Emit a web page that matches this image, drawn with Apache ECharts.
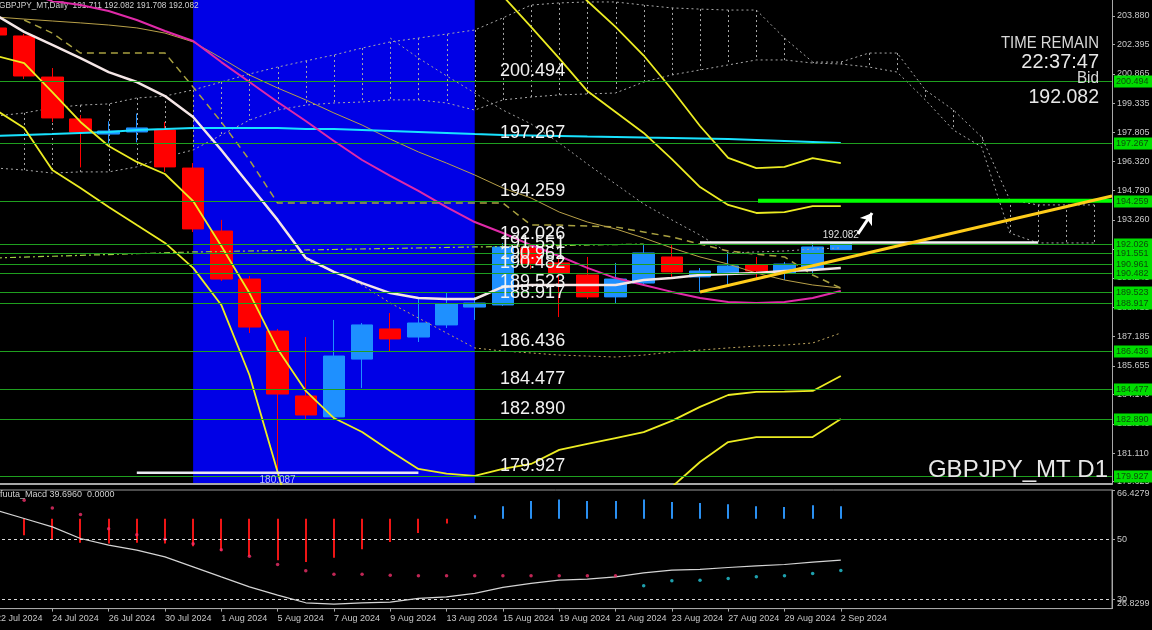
<!DOCTYPE html>
<html>
<head>
<meta charset="utf-8">
<title>GBPJPY_MT Daily</title>
<script src="https://cdn.jsdelivr.net/npm/echarts@6.0.0/dist/echarts.min.js"></script>
<style>
html,body{margin:0;padding:0;background:#000;overflow:hidden;}
#chart{width:1152px;height:630px;}
</style>
</head>
<body>
<div id="chart"></div>
<script>
// ---------- categories ----------
const dates = ['22 Jul 2024','23 Jul 2024','24 Jul 2024','25 Jul 2024','26 Jul 2024','29 Jul 2024','30 Jul 2024','31 Jul 2024',
  '1 Aug 2024','2 Aug 2024','5 Aug 2024','6 Aug 2024','7 Aug 2024','8 Aug 2024','9 Aug 2024','12 Aug 2024','13 Aug 2024',
  '14 Aug 2024','15 Aug 2024','16 Aug 2024','19 Aug 2024','20 Aug 2024','21 Aug 2024','22 Aug 2024','23 Aug 2024',
  '26 Aug 2024','27 Aug 2024','28 Aug 2024','29 Aug 2024','30 Aug 2024','2 Sep 2024'];
const dateLabelIdx = [0,2,4,6,8,10,12,14,16,18,20,22,24,26,28,30];

// ---------- candles ----------
const opens  = [203.255,202.84,200.70,198.52,197.73,197.84,197.94,195.96,192.68,190.18,187.47,184.09,183.00,186.01,187.58,187.16,187.79,188.72,188.83,191.80,191.02,190.39,189.25,189.97,191.33,190.29,190.44,190.91,190.50,190.70,191.711];
const closes = [202.89,200.755,198.57,197.84,197.89,198.05,196.02,192.79,190.18,187.68,184.19,183.10,186.17,187.79,187.06,187.89,188.88,188.93,191.85,191.00,190.50,189.25,190.18,191.54,190.55,190.60,190.86,190.60,190.96,191.85,192.082];
const lows   = [202.63,200.60,198.36,196.00,197.20,197.30,195.76,192.63,190.08,187.37,180.087,182.84,182.89,184.50,186.43,186.90,187.63,188.05,188.78,190.70,188.20,189.14,188.93,189.87,190.23,189.505,189.87,190.13,190.13,190.50,191.708];
const highs  = [203.46,202.95,201.17,198.72,198.40,198.80,198.36,196.22,193.26,190.34,187.58,187.16,188.05,187.89,188.41,189.19,189.505,189.24,192.06,192.00,191.28,191.33,191.02,191.95,191.95,190.755,191.59,191.33,191.07,192.06,192.082];

// ---------- indicator lines (price, per bar from index 0 unless noted) ----------
const cyanMA    = [197.63,197.68,197.73,197.79,197.84,197.94,197.99,198.05,198.05,198.05,198.05,197.99,197.99,197.94,197.89,197.84,197.79,197.73,197.68,197.66,197.63,197.60,197.58,197.55,197.53,197.50,197.47,197.42,197.37,197.32,197.27];
const whiteMA   = [203.93,203.05,202.37,201.69,200.96,200.44,199.71,198.62,196.90,195.08,193.26,191.28,190.55,189.97,189.45,189.19,189.14,189.14,189.77,189.87,189.87,189.87,189.87,190.13,190.23,190.39,190.44,190.49,190.60,190.65,190.76];
const magentaMA = [205.76,205.13,204.66,204.45,204.14,203.67,203.10,202.58,201.48,200.44,199.40,198.41,197.37,196.38,195.55,194.77,193.93,193.15,192.58,191.95,191.38,190.76,190.23,189.87,189.51,189.19,188.98,188.93,188.98,189.19,189.56];
const khakiMA   = [203.83,203.72,203.62,203.52,203.41,203.26,202.99,202.53,201.69,200.81,200.13,199.51,198.83,198.20,197.47,196.80,196.22,195.60,194.92,194.40,193.67,193.15,192.79,192.32,191.80,191.33,190.96,190.49,190.13,189.87,189.71];
const kijun     = [null,203.67,202.99,201.95,201.95,201.95,201.95,200.18,198.36,196.38,194.14,194.14,194.14,194.14,194.14,194.14,194.14,194.14,194.14,192.99,192.99,192.94,192.89,192.63,192.37,192.00,191.64,191.48,191.33,190.39,189.71];
const bandUpper2Start = 17;
const bandUpper2 = [206.54,204.92,203.31,201.67,199.97,198.88,197.79,196.43,194.97,194.04,193.62,193.67,193.98,193.98];
const bandUpper3Start = 20;
const bandUpper3 = [206.17,204.66,203.31,201.82,200.05,198.15,196.49,195.96,196.02,196.48,196.22];
const bandLower2 = [201.80,201.43,199.92,198.36,197.11,196.28,195.65,194.24,191.90,189.45,186.54,184.35,182.94,182.21,181.22,180.29,180.05,179.93,180.29,180.55,181.28,181.59,181.90,182.21,182.79,183.52,184.14,184.30,184.32,184.35,185.13];
const bandLower3 = [198.98,198.05,195.86,194.92,193.93,192.99,192.06,190.76,188.83,185.18,180.13,175.03,171.90,170.34,169.30,168.78,168.78,169.30,170.34,171.90,173.46,175.03,176.59,178.15,179.35,180.65,181.69,181.95,181.95,181.95,182.89];
const band1UpStart = 14;
const band1Up   = [202.73,201.69,200.76,199.87,198.98,198.26,197.27,196.17,195.13,194.09,193.26,192.47,191.54,191.59,191.64,191.74,191.80];
const band1LoStart = 11;
const band1Lo   = [191.17,190.55,189.87,188.93,188.15,187.37,186.59,186.43,186.33,186.22,186.17,186.12,186.22,186.38,186.48,186.59,186.69,186.74,186.85,187.37];
const dashDotLine = [[0,191.28],[7,191.59],[17,191.85],[23,192.00]];

// Ichimoku cloud spans (bar 0 .. 39, shifted forward)
const spanA = [198.67,198.83,199.09,199.24,199.30,199.61,199.71,200.03,200.44,200.86,201.22,201.54,201.85,202.21,202.53,202.73,202.94,203.15,203.78,204.45,204.56,204.61,204.61,204.45,204.30,204.24,204.19,204.19,202.73,201.48,201.48,201.95,201.95,200.03,198.98,197.58,194.30,194.04,194.04,194.04];
const spanB = [195.96,195.86,195.70,195.76,195.76,196.02,196.54,196.90,197.68,198.46,198.98,199.24,199.35,199.40,199.51,199.51,199.35,198.98,199.51,199.66,199.77,199.82,199.87,200.44,200.81,201.07,201.33,201.59,201.59,201.43,201.38,201.22,200.96,199.51,197.94,197.06,192.58,192.06,192.06,192.06];

// horizontal levels
const levels = [200.494,197.267,194.259,192.026,191.551,190.961,190.482,189.523,188.917,186.436,184.477,182.890,179.927];
const priceTicks = [203.880,202.395,200.865,199.335,197.805,196.320,194.790,193.260,191.730,190.245,188.715,187.185,185.655,184.170,182.640,181.110,179.625];

// drawn objects
const blueZone = [7, 17];
const greenLine = {from: 27.06, price: 194.259};
const trendLine = [[25, 189.505], [39.63, 194.505]];
const bidLine = {from: 25, to: 37, price: 192.082, labelAt: 30};
const lowMark = {from: 5, to: 15, price: 180.087};
const arrowUp = [[30.61, 192.53], [31.11, 193.62]];

// ---------- oscillator (fuuta_Macd) ----------
const histBase = 56.83;
const histStart = 1;
const hist = [51.33,49.9,48.78,48.56,48.78,48.56,47.67,46.1,44.33,43.0,42.43,43.77,46.67,49.1,52.1,55.23,58.0,61.0,62.77,63.23,62.77,62.77,63.23,62.43,62.1,61.67,61.0,60.77,61.33,61.0];
const dotsDownStart = 1;
const dotsDown = [63.0,60.43,58.23,53.5,51.5,50.0,48.5,46.5,44.33,41.56,39.44,38.33,38.33,38.0,37.78,37.78,37.78,37.78,37.78,37.78,37.78,37.78];
const dotsUpStart = 23;
const dotsUp = [34.44,36.1,36.33,36.89,37.44,37.78,38.56,39.56];
const signal = [59.67,56.9,54.1,50.23,48.0,46.33,44.1,40.77,37.43,34.1,31.33,28.77,28.33,28.77,29.0,30.23,30.77,31.9,33.9,35.23,36.33,36.67,37.43,38.77,39.67,39.9,40.56,41.1,41.56,42.33,43.0];
const oscLevels = [50, 30];
const oscTicks = [66.4279, 50, 30];
const oscBottomLabel = '26.8299';

// ---------- axis ranges ----------
const X_MAX = 39.63;
const PRICE_MIN = 179.505, PRICE_MAX = 204.713;
const OSC_MIN = 26.8299, OSC_MAX = 66.4279;

const FONT = '"Liberation Sans", Arial, sans-serif';
const AX_COL = '#c8c8c8';

function seq(arr, start) { return arr.map((v, i) => [start + i, v]); }
function priceLine(name, arr, start, color, width, type, z) {
  return {
    type: 'line', name, xAxisIndex: 0, yAxisIndex: 0, data: seq(arr, start),
    symbol: 'none', showSymbol: false, silent: true, clip: true, z: z || 3,
    lineStyle: {color, width, type: type || 'solid'}
  };
}

const chart = echarts.init(document.getElementById('chart'), null, {renderer: 'canvas'});

const candleData = opens.map((o, i) => [i, o, closes[i], lows[i], highs[i]]);

const option = {
  backgroundColor: '#000000',
  animation: false,
  grid: [
    {left: -4, right: 40, top: 0, height: 484, outerBoundsMode: 'none', containLabel: false},
    {left: -4, right: 40, top: 490, height: 118.6, outerBoundsMode: 'none', containLabel: false,
     show: true, borderColor: '#9a9a9a', borderWidth: 1, backgroundColor: 'transparent'}
  ],
  xAxis: [
    {type: 'value', gridIndex: 0, min: 0, max: X_MAX, splitLine: {show: false},
     axisLine: {show: true, onZero: false, lineStyle: {color: '#a8a8a8', width: 2}},
     axisTick: {show: false}, axisLabel: {show: false}},
    {type: 'value', gridIndex: 1, min: 0, max: X_MAX, splitLine: {show: false},
     axisLine: {show: true, onZero: false, lineStyle: {color: '#a8a8a8', width: 1}},
     axisTick: {show: true, customValues: dateLabelIdx, length: 3, lineStyle: {color: '#a8a8a8'}},
     axisLabel: {show: true, customValues: dateLabelIdx, formatter: v => dates[Math.round(v)] || '',
       color: AX_COL, fontSize: 9, fontFamily: FONT, align: 'left', margin: 5, hideOverlap: false}}
  ],
  yAxis: [
    {type: 'value', gridIndex: 0, position: 'right', min: PRICE_MIN, max: PRICE_MAX, splitLine: {show: false},
     axisLine: {show: true, onZero: false, lineStyle: {color: '#a8a8a8'}},
     axisTick: {show: true, customValues: priceTicks, length: 3, lineStyle: {color: '#a8a8a8'}},
     axisLabel: {customValues: priceTicks, formatter: v => v.toFixed(3), color: AX_COL, fontSize: 9, fontFamily: FONT, margin: 5, hideOverlap: false}},
    {type: 'value', gridIndex: 1, position: 'right', min: OSC_MIN, max: OSC_MAX, splitLine: {show: false},
     axisLine: {show: true, onZero: false, lineStyle: {color: '#a8a8a8'}},
     axisTick: {show: true, customValues: oscTicks, length: 3, lineStyle: {color: '#a8a8a8'}},
     axisLabel: {customValues: oscTicks, color: AX_COL, fontSize: 9, fontFamily: FONT, margin: 5,
       showMaxLabel: true, hideOverlap: false,
       formatter: v => (Math.abs(v - OSC_MAX) < 1e-6 ? '{t|' + v.toFixed(4) + '}' : String(v)),
       rich: {t: {color: AX_COL, fontSize: 9, fontFamily: FONT, padding: [8, 0, 0, 0]}}}}
  ],
  graphic: [
    {type: 'text', x: -1, y: 6, z: 1, scaleX: 0.92, style: {text: 'GBPJPY_MT,Daily  191.711 192.082 191.708 192.082', fill: '#d0d0d0', font: '9px ' + FONT, verticalAlign: 'middle'}},
    {type: 'text', x: 0, y: 495, z: 10, style: {text: 'fuuta_Macd 39.6960  0.0000', fill: '#d0d0d0', font: '9px ' + FONT, verticalAlign: 'middle'}},
    {type: 'text', x: 1117, y: 604, z: 10, style: {text: oscBottomLabel, fill: AX_COL, font: '9px ' + FONT, verticalAlign: 'middle'}},
    {type: 'text', x: 1099, y: 43, z: 10, scaleX: 0.88, style: {text: 'TIME REMAIN', fill: '#d8d8d8', font: '17px ' + FONT, align: 'right', verticalAlign: 'middle'}},
    {type: 'text', x: 1099, y: 62, z: 10, scaleX: 0.95, style: {text: '22:37:47', fill: '#e8e8e8', font: '21px ' + FONT, align: 'right', verticalAlign: 'middle'}},
    {type: 'text', x: 1099, y: 78, z: 10, scaleX: 0.9, style: {text: 'Bid', fill: '#d8d8d8', font: '17px ' + FONT, align: 'right', verticalAlign: 'middle'}},
    {type: 'text', x: 1099, y: 97, z: 10, scaleX: 0.93, style: {text: '192.082', fill: '#e8e8e8', font: '21px ' + FONT, align: 'right', verticalAlign: 'middle'}},
    {type: 'text', x: 1108, y: 470, z: 10, style: {text: 'GBPJPY_MT D1', fill: '#e8e8e8', font: '24px ' + FONT, align: 'right', verticalAlign: 'middle'}}
  ],
  series: [
    // blue highlighted zone
    {type: 'custom', name: 'zone', xAxisIndex: 0, yAxisIndex: 0, z: 0, silent: true,
     data: [[blueZone[0], blueZone[1]]], encode: {x: [0, 1]},
     renderItem: (params, api) => {
       const p1 = api.coord([api.value(0), PRICE_MAX]);
       const p2 = api.coord([api.value(1), PRICE_MIN]);
       return {type: 'rect', shape: {x: p1[0], y: p1[1], width: p2[0] - p1[0], height: p2[1] - p1[1]}, style: {fill: '#0000e6'}};
     }},
    // ichimoku hatch
    {type: 'custom', name: 'cloud', xAxisIndex: 0, yAxisIndex: 0, z: 1, silent: true,
     data: spanA.map((a, i) => [i, a, spanB[i]]), encode: {x: 0, y: [1, 2]},
     renderItem: (params, api) => {
       const p1 = api.coord([api.value(0), api.value(1)]);
       const p2 = api.coord([api.value(0), api.value(2)]);
       const x = Math.round(p1[0]) + 0.5;
       return {type: 'line', shape: {x1: x, y1: p1[1], x2: x, y2: p2[1]}, style: {stroke: '#a8a8a8', lineWidth: 1, lineDash: [2, 3]}};
     }},
    priceLine('spanA', spanA, 0, '#a8a8a8', 1, [2, 3], 1),
    priceLine('spanB', spanB, 0, '#a8a8a8', 1, [2, 3], 1),
    // candles
    {type: 'candlestick', name: 'GBPJPY', xAxisIndex: 0, yAxisIndex: 0, z: 2, silent: true, barWidth: 22, clip: true,
     data: candleData, encode: {x: 0, y: [1, 2, 3, 4]},
     itemStyle: {color: '#1e90ff', color0: '#ff0000', borderColor: '#1e90ff', borderColor0: '#ff0000', borderWidth: 1}},
    // indicators
    priceLine('band1Up', band1Up, band1UpStart, '#a0a0a0', 1, [2, 3]),
    priceLine('band1Lo', band1Lo, band1LoStart, '#c0a860', 1, [2, 3]),
    priceLine('kijun', kijun, 0, '#a8a040', 1.5, [7, 5]),
    {type: 'line', name: 'dashdot', xAxisIndex: 0, yAxisIndex: 0, data: dashDotLine, symbol: 'none', silent: true, z: 3,
     lineStyle: {color: '#9ccc44', width: 1.2, type: [6, 3, 2, 3]}},
    priceLine('khaki', khakiMA, 0, '#b8a048', 1),
    priceLine('cyan', cyanMA, 0, '#19e3ff', 2),
    priceLine('magenta', magentaMA, 0, '#e02aa8', 2),
    priceLine('white', whiteMA, 0, '#f4e6e6', 2.5),
    priceLine('up2', bandUpper2, bandUpper2Start, '#ecec22', 1.8),
    priceLine('up3', bandUpper3, bandUpper3Start, '#ecec22', 1.8),
    priceLine('lo2', bandLower2, 0, '#ecec22', 1.8),
    priceLine('lo3', bandLower3, 0, '#ecec22', 1.8),
    // horizontal levels with labels
    {type: 'custom', name: 'levels', xAxisIndex: 0, yAxisIndex: 0, z: 6, silent: true, clip: false,
     data: levels.map(v => [17.9, v]), encode: {x: 0, y: 1},
     renderItem: (params, api) => {
       const cs = params.coordSys;
       const v = api.value(1);
       const p = api.coord([api.value(0), v]);
       const y = Math.round(p[1]) + 0.5;
       const right = cs.x + cs.width;
       const txt = v.toFixed(3);
       return {type: 'group', children: [
         {type: 'line', shape: {x1: 0, y1: y, x2: right, y2: y}, style: {stroke: '#1f9f1f', lineWidth: 1}},
         {type: 'text', x: p[0], y: y - 1, style: {text: txt, fill: '#f2f2f2', font: '18px ' + FONT, align: 'left', verticalAlign: 'bottom'}},
         {type: 'rect', shape: {x: right + 2, y: y - 6, width: 38, height: 12}, style: {fill: '#00dd00'}},
         {type: 'text', x: right + 4, y: y, style: {text: txt, fill: '#0b4d0b', font: '9px ' + FONT, align: 'left', verticalAlign: 'middle'}}
       ]};
     }},
    // thick bright green line
    {type: 'line', name: 'green', xAxisIndex: 0, yAxisIndex: 0, z: 7, symbol: 'none', silent: true,
     data: [[greenLine.from, greenLine.price], [X_MAX, greenLine.price]], lineStyle: {color: '#00ff00', width: 4}},
    // trend line
    {type: 'line', name: 'trend', xAxisIndex: 0, yAxisIndex: 0, z: 7, symbol: 'none', silent: true,
     data: trendLine, lineStyle: {color: '#ffcc1a', width: 3}},
    // bid line + label
    {type: 'custom', name: 'bid', xAxisIndex: 0, yAxisIndex: 0, z: 7, silent: true,
     data: [[bidLine.from, bidLine.to, bidLine.price, bidLine.labelAt]], encode: {x: [0, 1], y: 2},
     renderItem: (params, api) => {
       const p1 = api.coord([api.value(0), api.value(2)]);
       const p2 = api.coord([api.value(1), api.value(2)]);
       const pl = api.coord([api.value(3), api.value(2)]);
       return {type: 'group', children: [
         {type: 'line', shape: {x1: p1[0], y1: p1[1], x2: p2[0], y2: p2[1]}, style: {stroke: '#f4f4f4', lineWidth: 2.5}},
         {type: 'text', x: pl[0], y: pl[1] - 2, style: {text: api.value(2).toFixed(3), fill: '#e0e0e0', font: '10px ' + FONT, align: 'center', verticalAlign: 'bottom'}}
       ]};
     }},
    // low marker
    {type: 'custom', name: 'low', xAxisIndex: 0, yAxisIndex: 0, z: 7, silent: true, clip: false,
     data: [[lowMark.from, lowMark.to, lowMark.price]], encode: {x: [0, 1], y: 2},
     renderItem: (params, api) => {
       const p1 = api.coord([api.value(0), api.value(2)]);
       const p2 = api.coord([api.value(1), api.value(2)]);
       return {type: 'group', children: [
         {type: 'line', shape: {x1: p1[0], y1: p1[1], x2: p2[0], y2: p2[1]}, style: {stroke: '#e8e8f0', lineWidth: 2.5}},
         {type: 'text', x: (p1[0] + p2[0]) / 2, y: p1[1] + 2, style: {text: api.value(2).toFixed(3), fill: '#b8bcff', font: '10px ' + FONT, align: 'center', verticalAlign: 'top'}}
       ]};
     }},
    // arrow
    {type: 'lines', name: 'arrow', coordinateSystem: 'cartesian2d', xAxisIndex: 0, yAxisIndex: 0, z: 8, silent: true,
     symbol: ['none', 'arrow'], symbolSize: 11,
     data: [{coords: arrowUp}], lineStyle: {color: '#ffffff', width: 3, opacity: 1}},

    // ---------- oscillator ----------
    {type: 'custom', name: 'hist', xAxisIndex: 1, yAxisIndex: 1, z: 2, silent: true,
     data: seq(hist, histStart), encode: {x: 0, y: 1},
     renderItem: (params, api) => {
       const v = api.value(1);
       const p0 = api.coord([api.value(0), histBase]);
       const p1 = api.coord([api.value(0), v]);
       const top = Math.min(p0[1], p1[1]);
       return {type: 'rect', shape: {x: Math.round(p0[0]) - 1, y: top, width: 2, height: Math.abs(p1[1] - p0[1])},
               style: {fill: v >= histBase ? '#2a8ff0' : '#ee1515'}};
     }},
    {type: 'line', name: 'signal', xAxisIndex: 1, yAxisIndex: 1, z: 3, symbol: 'none', silent: true,
     data: seq(signal, 0), lineStyle: {color: '#d4d4d4', width: 1.2},
     markLine: {silent: true, symbol: ['none', 'none'], label: {show: false},
       lineStyle: {color: '#d8d8d8', width: 1, type: [3, 3]},
       data: oscLevels.map(v => ({yAxis: v}))}},
    {type: 'scatter', name: 'dotsDown', xAxisIndex: 1, yAxisIndex: 1, z: 4, silent: true, symbolSize: 3.5,
     data: seq(dotsDown, dotsDownStart), itemStyle: {color: '#f0306a'}},
    {type: 'scatter', name: 'dotsUp', xAxisIndex: 1, yAxisIndex: 1, z: 4, silent: true, symbolSize: 3.5,
     data: seq(dotsUp, dotsUpStart), itemStyle: {color: '#25c8d8'}}
  ]
};
chart.setOption(option);
</script>
</body>
</html>
